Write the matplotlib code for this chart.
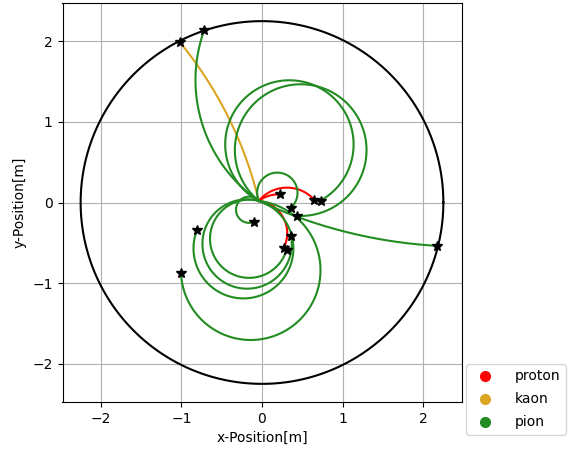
import numpy as np
import matplotlib
matplotlib.use('Agg')
import matplotlib.pyplot as plt
from matplotlib.lines import Line2D


# detector boundary and the common production vertex
DETECTOR_RADIUS = 2.25
VERTEX = (-0.04, 0.02)

# one entry per track: circle centre of the helix projection,
# last recorded point, and turning sense (+1 ccw, -1 cw)
track_type = ['kaon', 'proton', 'proton', 'proton',
              'pion', 'pion', 'pion', 'pion', 'pion',
              'pion', 'pion', 'pion', 'pion', 'pion']
center_x = [-4.82, 0.31, 0.21, -0.09,
            1.00, 2.51, 0.34, 0.48, 0.19,
            -0.16, -0.14, -0.23, -0.185, -0.16]
center_y = [-1.13, -0.27, -0.32, -0.38,
            1.52, 5.47, 0.72, 0.65, 0.12,
            -0.09, -0.84, -0.57, -0.515, -0.45]
end_x = [-1.00, 0.65, 0.22, 0.27,
         -0.73, 2.17, 0.75, 0.43, 0.35,
         -0.09, -1.00, -0.80, 0.35, 0.22]
end_y = [2.01, 0.04, 0.10, -0.56,
         2.14, -0.53, -0.02, -0.19, -0.05,
         -0.25, -0.87, -0.34, -0.42, -0.56]
turn = [1, -1, -1, -1,
        -1, 1, -1, -1, -1,
        1, -1, -1, 1, 1]

particles = ['proton', 'kaon', 'pion']
colors = {'proton': 'red', 'kaon': 'goldenrod', 'pion': 'forestgreen'}


def track_arc(cx, cy, ex, ey, sense, n=500):
    '''arc of the circle through the vertex, from the vertex to (ex, ey)'''
    r = np.hypot(VERTEX[0] - cx, VERTEX[1] - cy)
    phi0 = np.arctan2(VERTEX[1] - cy, VERTEX[0] - cx)
    phi1 = np.arctan2(ey - cy, ex - cx)
    sweep = (sense * (phi1 - phi0)) % (2 * np.pi)
    phi = phi0 + sense * np.linspace(0, sweep, n)
    return cx + r * np.cos(phi), cy + r * np.sin(phi)


fig = plt.figure(figsize=(5.69, 4.53), dpi=100)
ax = fig.add_axes([62 / 569, 51 / 453, 400 / 569, 399 / 453])

t = np.linspace(0, 2 * np.pi, 400)
ax.plot(DETECTOR_RADIUS * np.cos(t), DETECTOR_RADIUS * np.sin(t),
        color='black', lw=1.5, zorder=2)

for kind, cx, cy, ex, ey, s in zip(track_type, center_x, center_y,
                                   end_x, end_y, turn):
    x, y = track_arc(cx, cy, ex, ey, s)
    ax.plot(x, y, color=colors[kind], lw=1.5, zorder=3)
    ax.plot(x[-1], y[-1], marker='*', color='black', ms=7,
            linestyle='', zorder=5)

lim = DETECTOR_RADIUS * 1.1
ax.set_xlim(-lim, lim)
ax.set_ylim(-lim, lim)
ax.set_aspect('equal')
ax.set_xticks([-2, -1, 0, 1, 2])
ax.set_yticks([-2, -1, 0, 1, 2])
ax.grid(True, zorder=0)
ax.set_axisbelow(True)
ax.set_xlabel('x-Position[m]')
ax.set_ylabel('y-Position[m]')

handles = [Line2D([], [], marker='o', linestyle='', color=colors[p],
                  markersize=7, label=p) for p in particles]
fig.legend(handles=handles, loc='lower left',
           bbox_to_anchor=(466 / 569, 18 / 453), borderaxespad=0,
           labelspacing=0.65, handletextpad=1.1)

fig.savefig('out.png', dpi=100)
